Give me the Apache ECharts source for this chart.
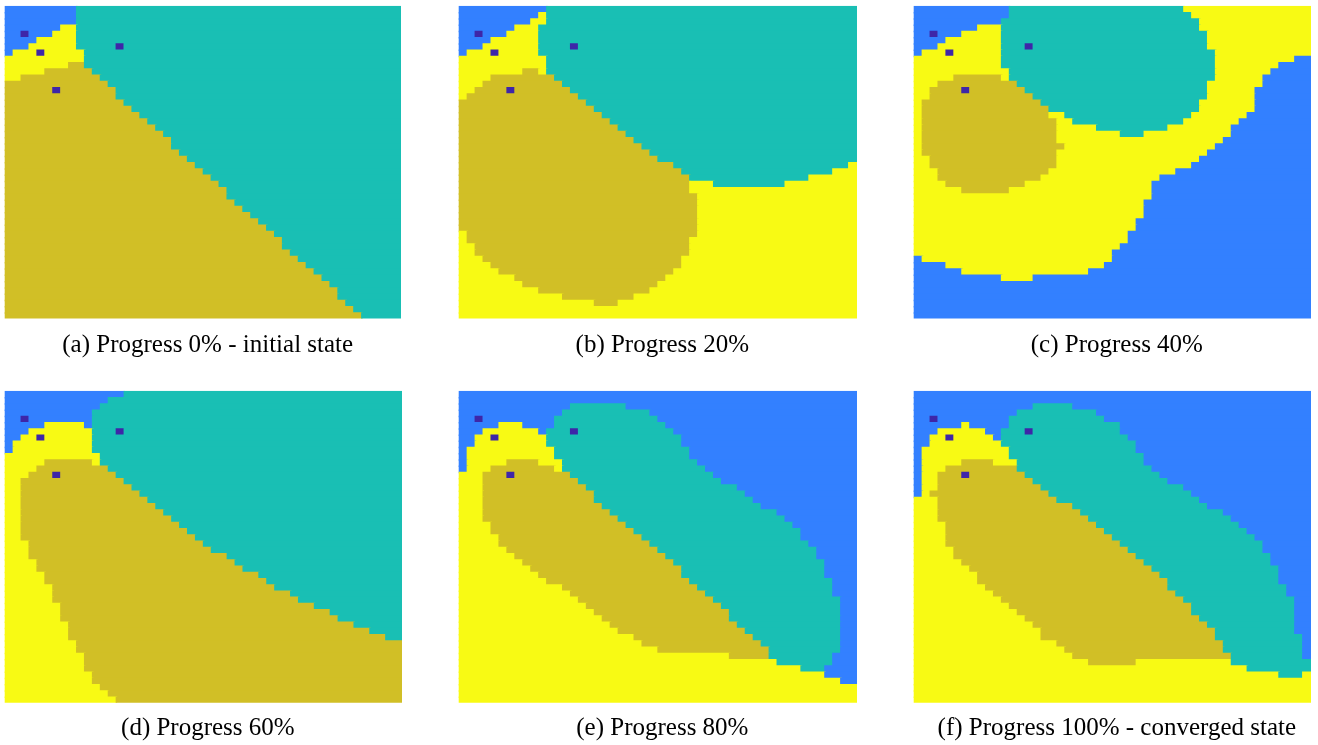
<!DOCTYPE html>
<html>
<head>
<meta charset="utf-8">
<script src="https://cdn.jsdelivr.net/npm/echarts@6/dist/echarts.min.js"></script>
<style>
html,body{margin:0;padding:0;background:#ffffff;}
#chart{width:1318px;height:745px;}
</style>
</head>
<body>
<div id="chart"></div>
<script>
// ---------------- DATA ----------------
// Region codes: P = seed cell, B = blue region, C = teal region, O = olive region, Y = yellow region
const regionCodes = ['P', 'B', 'C', 'O', 'Y'];
const gridCols = 50;
const gridRows = 50;

// Each row (top to bottom) is run-length coded: letter + number of cells, left to right
const mapA = [
  "B9C41","B9C41","B9C41","B7Y2C41","B6Y3C41","B4Y5C41","B3Y6C41","B1Y9C40","Y10C40","Y8O2C40",
  "Y5O6C39","Y2O10C38","O13C37","O14C36","O14C36","O15C35","O16C34","O17C33","O18C32","O19C31",
  "O20C30","O21C29","O21C29","O22C28","O23C27","O24C26","O25C25","O26C24","O27C23","O28C22",
  "O28C22","O29C21","O30C20","O31C19","O32C18","O33C17","O34C16","O35C15","O35C15","O36C14",
  "O37C13","O38C12","O39C11","O40C10","O41C9","O42C8","O42C8","O43C7","O44C6","O45C5"
];
const mapB = [
  "B11C39","B10Y1C39","B9Y2C39","B7Y3C40","B6Y4C40","B4Y6C40","B3Y7C40","B1Y9C40","Y11C39","Y11C39",
  "Y8O2Y1C39","Y4O8C38","Y3O10C37","Y2O12C36","Y1O14C35","O16C34","O17C33","O18C32","O19C31","O20C30",
  "O21C29","O22C28","O23C27","O24C26","O25C25","O27C22Y1","O28C19Y3","O29C15Y6","O29Y3C9Y9","O29Y21",
  "O30Y20","O30Y20","O30Y20","O30Y20","O30Y20","O30Y20","Y1O29Y20","Y1O28Y21","Y2O27Y21","Y2O27Y21",
  "Y3O25Y22","Y4O24Y22","Y5O22Y23","Y7O19Y24","Y8O17Y25","Y10O14Y26","Y13O9Y28","Y17O3Y30","Y50","Y50"
];
const mapC = [
  "B12C22Y16","B12C23Y15","B11C25Y14","B8Y3C25Y14","B6Y5C26Y13","B4Y7C26Y13","B3Y8C26Y13","B1Y10C27Y12","Y11C27Y10B2","Y11C27Y8B4",
  "Y12C26Y7B5","Y5O6Y1C26Y6B6","Y3O10C24Y7B6","Y2O12C23Y6B7","Y2O13C22Y6B7","Y1O15C20Y7B7","Y1O16C19Y7B7","Y1O16Y2C16Y7B8","Y1O17Y2C14Y7B9","Y1O17Y5C9Y8B10",
  "Y1O17Y8C3Y11B10","Y1O17Y21B11","Y1O18Y19B12","Y1O17Y19B13","Y2O16Y18B14","Y2O16Y17B15","Y3O14Y16B17","Y3O13Y15B19","Y4O10Y16B20","Y6O6Y18B20",
  "Y30B20","Y29B21","Y29B21","Y29B21","Y28B22","Y28B22","Y27B23","Y27B23","Y26B24","Y25B25",
  "B1Y24B25","B4Y20B26","B6Y16B28","B11Y4B35","B50","B50","B50","B50","B50","B50"
];
const mapD = [
  "B15C35","B13C37","B12C38","B11C39","B11C39","B5Y5B1C39","B3Y8C39","B2Y9C39","B1Y10C39","B1Y10C39",
  "Y12C38","Y5O6Y1C38","Y4O9C37","Y3O11C36","Y2O13C35","Y2O14C34","Y2O15C33","Y2O16C32","Y2O17C31","Y2O18C30",
  "Y2O19C29","Y2O20C28","Y2O21C27","Y2O22C26","Y3O22C25","Y3O23C24","Y3O25C22","Y4O25C21","Y4O26C20","Y5O27C18",
  "Y5O28C17","Y6O28C16","Y6O30C14","Y6O31C13","Y7O32C11","Y7O34C9","Y7O35C8","Y8O36C6","Y8O38C4","Y8O40C2",
  "Y9O41","Y9O41","Y10O40","Y10O40","Y10O40","Y11O39","Y11O39","Y12O38","Y13O37","Y14O36"
];
const mapE = [
  "B50","B50","B14C7B29","B13C11B26","B12C13B25","B5Y3B4C14B24","B3Y7B1C16B23","B2Y9C17B22","B2Y9C17B22","B1Y11C17B21",
  "B1Y11C17B21","B1Y5O4Y3C17B20","B1Y3O8Y1C18B19","Y3O11C18B18","Y3O12C18B17","Y3O13C19B15","Y3O14C19B14","Y3O14C20B13","Y3O15C20B12","Y3O16C21B10",
  "Y3O17C21B9","Y4O17C21B8","Y4O18C21B7","Y5O18C20B7","Y5O19C20B6","Y6O19C20B5","Y7O19C19B5","Y8O19C19B4","Y9O19C18B4","Y10O18C18B4",
  "Y11O18C18B3","Y13O17C17B3","Y14O17C16B3","Y15O17C16B2","Y16O17C15B2","Y17O17C14B2","Y18O16C14B2","Y19O16C13B2","Y20O16C12B2","Y22O15C11B2",
  "Y23O15C10B2","Y25O14C9B2","Y34O5C8B3","Y40C7B3","Y43C3B4","Y46B4","Y48B2","Y50","Y50","Y50"
];
const mapF = [
  "B50","B50","B15C5B30","B13C10B27","B12C12B26","B6Y1B5C14B24","B3Y6B2C15B24","B2Y8B1C16B23","B2Y9C17B22","B1Y11C16B22",
  "B1Y11C17B21","B1Y5O4Y3C16B21","B1Y3O9C17B20","B1Y2O11C17B19","B1Y2O12C17B18","B1Y2O13C18B16","B1Y1O15C18B15","Y3O15C18B14","Y3O17C17B13","Y3O18C18B11",
  "Y3O19C18B10","Y4O19C18B9","Y4O20C18B8","Y4O21C18B7","Y4O22C18B6","Y5O22C17B6","Y5O23C17B5","Y6O23C16B5","Y7O23C16B4","Y8O23C15B4",
  "Y8O24C14B4","Y9O23C15B3","Y10O23C14B3","Y11O23C14B2","Y12O23C13B2","Y13O22C13B2","Y14O22C12B2","Y15O22C11B2","Y16O22C10B2","Y16O22C11B1",
  "Y18O21C10B1","Y19O20C10B1","Y20O20C9B1","Y22O6Y12C10","Y42C8","Y46C3Y1","Y50","Y50","Y50","Y50"
];

// Seed cells [column, row], the same in every panel
const seedCells = [[2, 4], [4, 7], [6, 13], [14, 6]];

const panelMaps = [mapA, mapB, mapC, mapD, mapE, mapF];
const captions = [
  "(a) Progress 0% - initial state",
  "(b) Progress 20%",
  "(c) Progress 40%",
  "(d) Progress 60%",
  "(e) Progress 80%",
  "(f) Progress 100% - converged state"
];

// ---------------- STYLE ----------------
const regionColors = ['#3E26A8', '#3380FF', '#19BFB4', '#D1BF26', '#F8FA14'];
const panelBoxes = [
  {left: 4.7,   top: 5.7,   width: 396.0, height: 312.7},
  {left: 458.7, top: 5.7,   width: 397.3, height: 312.7},
  {left: 913.7, top: 5.7,   width: 396.3, height: 312.7},
  {left: 4.7,   top: 390.7, width: 396.3, height: 312.0},
  {left: 458.7, top: 390.7, width: 397.3, height: 312.0},
  {left: 913.7, top: 390.7, width: 396.3, height: 312.0}
];
const captionY = [328, 328, 328, 711, 711, 711];
const captionFontSize = 25;
const seamOverlap = 1.5;

// ---------------- BUILD ----------------
function decodeRuns(rows) {
  const runs = [];
  rows.forEach((rowStr, r) => {
    const re = /([A-Z])(\d+)/g;
    let m, col = 0;
    while ((m = re.exec(rowStr)) !== null) {
      const n = parseInt(m[2], 10);
      runs.push([col, col + n - 1, r, regionCodes.indexOf(m[1])]);
      col += n;
    }
  });
  return runs;
}

function makeRenderer(overlap) {
  return function (params, api) {
    const c0 = api.value(0), c1 = api.value(1), r = api.value(2);
    const p0 = api.coord([c0 - 0.5, r - 0.5]);
    const p1 = api.coord([c1 + 0.5, r + 0.5]);
    const x = Math.min(p0[0], p1[0]), y = Math.min(p0[1], p1[1]);
    return {
      type: 'rect',
      shape: {x: x, y: y, width: Math.abs(p1[0] - p0[0]) + overlap, height: Math.abs(p1[1] - p0[1]) + overlap},
      style: {fill: api.visual('color')}
    };
  };
}

const grid = [], xAxis = [], yAxis = [], series = [], title = [];
panelMaps.forEach((rows, i) => {
  const b = panelBoxes[i];
  grid.push({left: b.left, top: b.top, width: b.width, height: b.height, containLabel: false});
  xAxis.push({type: 'value', gridIndex: i, min: -0.5, max: gridCols - 0.5, show: false});
  yAxis.push({type: 'value', gridIndex: i, min: -0.5, max: gridRows - 0.5, inverse: true, show: false});
  series.push({
    type: 'custom', xAxisIndex: i, yAxisIndex: i, clip: true,
    renderItem: makeRenderer(seamOverlap), data: decodeRuns(rows),
    encode: {x: [0, 1], y: 2}, z: 1, silent: true, animation: false
  });
  series.push({
    type: 'custom', xAxisIndex: i, yAxisIndex: i, clip: true,
    renderItem: makeRenderer(0),
    data: seedCells.map(s => [s[0], s[0], s[1], 0]),
    encode: {x: [0, 1], y: 2}, z: 2, silent: true, animation: false
  });
  title.push({
    text: captions[i],
    left: b.left + b.width / 2,
    top: captionY[i],
    textAlign: 'center',
    textStyle: {fontFamily: 'Liberation Serif', fontSize: captionFontSize, fontWeight: 'normal', color: '#000000'}
  });
});

const chart = echarts.init(document.getElementById('chart'), null, {renderer: 'canvas'});
chart.setOption({
  animation: false,
  backgroundColor: '#ffffff',
  title: title,
  grid: grid,
  xAxis: xAxis,
  yAxis: yAxis,
  visualMap: {
    type: 'piecewise', show: false, dimension: 3,
    pieces: regionColors.map((c, k) => ({value: k, color: c}))
  },
  series: series
});
</script>
</body>
</html>
